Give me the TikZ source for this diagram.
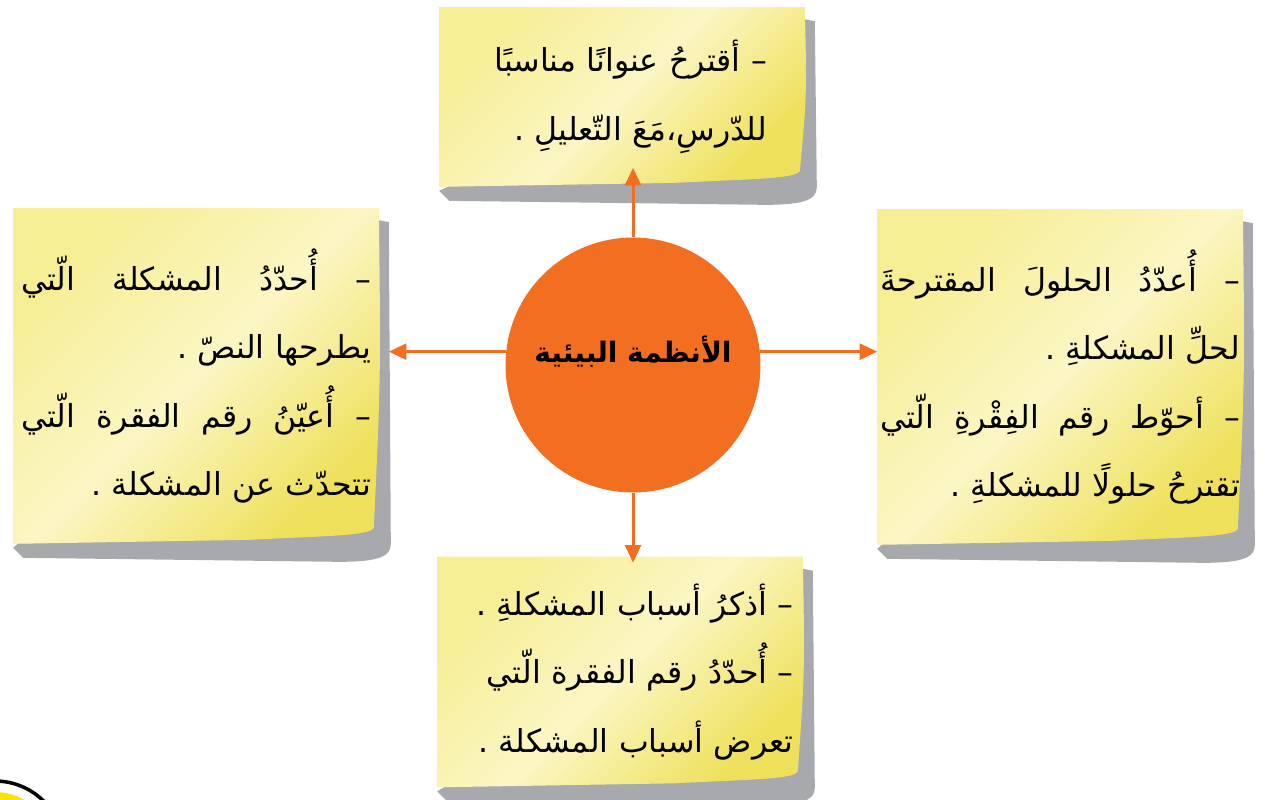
\documentclass[tikz,border=0pt]{standalone}
\usepackage{fontspec}
\usetikzlibrary{shadows,arrows.meta,positioning,calc,backgrounds}
\TeXXeTstate=1
\newfontfamily\arabicfont[Script=Arabic]{DejaVu Sans}

\definecolor{hubOrange}{HTML}{F26F21}
\definecolor{noteLight}{HTML}{FBF6C4}
\definecolor{noteMid}{HTML}{F6EE94}
\definecolor{noteDark}{HTML}{EEE05A}
\definecolor{shadowGray}{HTML}{A7A9AC}

\begin{document}
\begin{tikzpicture}[x=0.02cm,y=-0.02cm,
    note/.style={rectangle, inner sep=0pt, minimum width=7.3cm,
      align=right, font=\arabicfont\fontsize{18}{39}\selectfont},
    paper/.style={top color=noteMid, bottom color=noteDark, middle color=noteLight,
      shading angle=45},
    hubnode/.style={circle, fill=hubOrange, minimum size=5.1cm, inner sep=0pt},
    link/.style={hubOrange, line width=1.7pt, -{Triangle[length=10pt,width=9pt]}}]

    \useasboundingbox (0,0) rectangle (1266,799);

    % corner badge, cut by the page edge
    \begin{scope}
        \clip (0,0) rectangle (1266,799);
        \draw [line width=2pt, fill=white] (-5,850) circle [radius=69];
        \fill [yellow!85!orange] (-5,850) circle [radius=58];
    \end{scope}

    % Notes
    \node [note, minimum height=3.58cm, text width=5.8cm] (topnote) at (622,97)
        {\beginR – أقترحُ عنوانًا مناسبًا\endR\\
         \beginR للدّرسِ،مَعَ التّعليلِ .\endR\hspace*{0.55cm}};

    \node [note, minimum height=6.7cm, text width=7cm] (leftnote) at (196,376)
        {\makebox[7cm]{\beginR –\hfill أُحدّدُ\hfill المشكلة\hfill الّتي\endR}\\
         \beginR يطرحها النصّ .\endR\hspace*{0.74cm}\\
         \makebox[7cm]{\beginR –\hfill أُعيّنُ\hfill رقم\hfill الفقرة\hfill الّتي\endR}\\
         \beginR تتحدّث عن المشكلة .\endR\hspace*{0.74cm}};

    \node [note, minimum height=6.7cm, text width=7.2cm] (rightnote) at (1060,377)
        {\makebox[7.2cm]{\beginR –\hfill أُعدّدُ\hfill الحلولَ\hfill المقترحةَ\endR}\\
         \beginR لحلِّ المشكلةِ .\endR\hspace*{0.8cm}\\
         \makebox[7.2cm]{\beginR –\hfill أحوّط\hfill رقم\hfill الفِقْرةِ\hfill الّتي\endR}\\
         \beginR تقترحُ حلولًا للمشكلةِ .\endR\hspace*{0.8cm}};

    \node [note, minimum height=4.6cm, text width=6.95cm] (botnote) at (620,672)
        {\beginR – أذكرُ أسباب المشكلةِ .\endR\hspace*{0.16cm}\\
         \beginR – أُحدّدُ رقم الفقرة الّتي\endR\\
         \beginR تعرض أسباب المشكلة .\endR\hspace*{0.74cm}};

    % paper and its shadow behind each note
    \begin{scope}[on background layer]
        \foreach \n in {topnote,leftnote,rightnote,botnote} {
            \fill [shadowGray] ($(\n.north east)+(0,12)$) -- ($(\n.north east)+(10,14)$)
                -- ($(\n.south east)+(12,0)$)
                .. controls ($(\n.south east)+(12,12)$) and ($(\n.south east)+(2,18)$)
                .. ($(\n.south east)+(-40,18)$)
                -- ($(\n.south west)+(10,14)$) -- ($(\n.south west)+(0,4)$) -- cycle;
            \shade [paper] (\n.north west) -- (\n.north east)
                .. controls ($(\n.north east)!0.5!(\n.south east)+(2,0)$)
                .. ($(\n.south east)+(-5,-16)$)
                .. controls ($(\n.south east)+(-9,-8)$) and ($(\n.south east)+(-50,-8)$)
                .. ($(\n.south east)+(-130,-4)$)
                -- (\n.south west) -- cycle;
        }
    \end{scope}

    % Centre
    \node [hubnode] (hub) at (633,365) {};
    \node [font=\arabicfont\bfseries\fontsize{16}{20}\selectfont] (title) at (633,352)
        {\beginR الأنظمة البيئية\endR};

    % Arrows
    \draw [link, shorten >=-0.38cm] (hub.north) -- (hub.north |- topnote.south);
    \draw [link, shorten >=-0.12cm] (hub.south) -- (hub.south |- botnote.north);
    \draw [link, shorten >=0.2cm] (hub.174) -- (hub.174 -| leftnote.east);
    \draw [link] (hub.6) -- (hub.6 -| rightnote.west);
\end{tikzpicture}
\end{document}
